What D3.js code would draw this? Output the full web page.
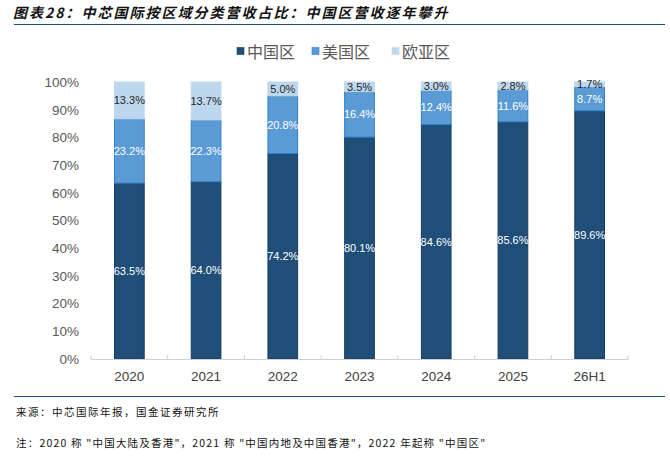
<!DOCTYPE html>
<html>
<head>
<meta charset="utf-8">
<script src="https://cdn.jsdelivr.net/npm/d3@7"></script>
<style>
  body { margin: 0; background: #fff; }
  svg { display: block; }
</style>
</head>
<body>
<div class="chart"></div>
<script>
// data
var categories = ["2020", "2021", "2022", "2023", "2024", "2025", "26H1"];
var chinaShare = [63.5, 64.0, 74.2, 80.1, 84.6, 85.6, 89.6];
var usShare = [23.2, 22.3, 20.8, 16.4, 12.4, 11.6, 8.7];
var euAsiaShare = [13.3, 13.7, 5.0, 3.5, 3.0, 2.8, 1.7];
var seriesNames = ["中国区", "美国区", "欧亚区"];
var yTicks = [0, 10, 20, 30, 40, 50, 60, 70, 80, 90, 100];

var colors = ["#1f4e79", "#5b9bd5", "#bdd7ee"];
var strokes = ["#163d63", "#2f7fc8", "#bdd7ee"];
var labelColors = ["#ffffff", "#ffffff", "#262626"];

var width = 670, height = 456;
var plotLeft = 91, plotRight = 628, plotTop = 82, plotBottom = 359;
var cjk = "'Noto Sans CJK SC', sans-serif";
var latin = "'Liberation Sans', Arial, sans-serif";

var svg = d3.select(".chart")
  .append("svg")
  .attr("width", width)
  .attr("height", height);

// title + rules
svg.append("text")
  .attr("x", 13)
  .attr("y", 18)
  .attr("font-family", cjk)
  .attr("font-size", 14)
  .attr("font-weight", "bold")
  .attr("font-style", "italic")
  .attr("letter-spacing", 2)
  .attr("fill", "#111")
  .text("图表28：中芯国际按区域分类营收占比：中国区营收逐年攀升");

svg.append("line")
  .attr("x1", 14).attr("x2", 665)
  .attr("y1", 24.5).attr("y2", 24.5)
  .attr("stroke", "#1f4e79")
  .attr("stroke-width", 1.2);

svg.append("line")
  .attr("x1", 14).attr("x2", 665)
  .attr("y1", 396.5).attr("y2", 396.5)
  .attr("stroke", "#1f4e79")
  .attr("stroke-width", 1.2);

svg.append("text")
  .attr("x", 16).attr("y", 416)
  .attr("font-family", cjk)
  .attr("font-size", 10.5)
  .attr("letter-spacing", 1.5)
  .attr("fill", "#111")
  .text("来源：中芯国际年报，国金证券研究所");

svg.append("text")
  .attr("x", 16).attr("y", 447)
  .attr("font-family", cjk)
  .attr("font-size", 10.5)
  .attr("letter-spacing", 1.2)
  .attr("fill", "#111")
  .text("注：2020 称 \"中国大陆及香港\"，2021 称 \"中国内地及中国香港\"，2022 年起称 \"中国区\"");

// legend
var legendX = [237, 312, 392];
var legend = svg.append("g").attr("class", "legend");
seriesNames.forEach(function (name, i) {
  legend.append("rect")
    .attr("x", legendX[i]).attr("y", 47.5)
    .attr("width", 7).attr("height", 7)
    .attr("fill", colors[i])
    .attr("stroke", strokes[i])
    .attr("stroke-width", 0.6);
  legend.append("text")
    .attr("x", legendX[i] + 10).attr("y", 57.5)
    .attr("font-family", cjk)
    .attr("font-size", 16)
    .attr("fill", "#595959")
    .text(name);
});

// scales
var x = d3.scaleBand()
  .domain(categories)
  .range([plotLeft, plotRight])
  .paddingInner(0.6)
  .paddingOuter(0.3);

var y = d3.scaleLinear()
  .domain([0, 100])
  .range([plotBottom, plotTop]);

var table = categories.map(function (c, i) {
  return { cat: c, china: chinaShare[i], us: usShare[i], eu: euAsiaShare[i] };
});

var stack = d3.stack().keys(["china", "us", "eu"]);
var layers = stack(table);

// bars
layers.forEach(function (layer, li) {
  svg.append("g")
    .attr("class", "layer")
    .selectAll("rect")
    .data(layer)
    .enter()
    .append("rect")
    .attr("x", function (d) { return x(d.data.cat) + 0.5; })
    .attr("width", x.bandwidth() - 1)
    .attr("y", function (d) { return y(d[1]); })
    .attr("height", function (d) { return y(d[0]) - y(d[1]); })
    .attr("fill", colors[li])
    .attr("stroke", strokes[li])
    .attr("stroke-width", 1);
});

// value labels
layers.forEach(function (layer, li) {
  svg.append("g").selectAll("text")
    .data(layer)
    .enter()
    .append("text")
    .attr("x", function (d) { return x(d.data.cat) + x.bandwidth() / 2; })
    .attr("y", function (d) { return (y(d[0]) + y(d[1])) / 2 + 4; })
    .attr("text-anchor", "middle")
    .attr("font-family", latin)
    .attr("font-size", 11)
    .attr("fill", labelColors[li])
    .text(function (d) { return (d[1] - d[0]).toFixed(1) + "%"; });
});

// y axis (labels only)
var yAxis = svg.append("g")
  .attr("transform", "translate(" + (plotLeft - 12) + ",0)")
  .call(d3.axisLeft(y).tickValues(yTicks).tickSize(0).tickPadding(0)
    .tickFormat(function (d) { return d + "%"; }));
yAxis.select(".domain").remove();
yAxis.selectAll("text")
  .attr("font-family", latin)
  .attr("font-size", 13.5)
  .attr("fill", "#595959");

// x axis
var xAxis = svg.append("g")
  .attr("transform", "translate(0," + plotBottom + ")")
  .call(d3.axisBottom(x).tickSize(0).tickPadding(12));
xAxis.select(".domain")
  .attr("stroke", "#d0d0d0")
  .attr("d", "M" + plotLeft + ",0.5H" + plotRight);
xAxis.selectAll("text")
  .attr("font-family", latin)
  .attr("font-size", 13.5)
  .attr("fill", "#404040");

// boundary ticks between categories
var bounds = d3.range(categories.length + 1).map(function (i) {
  return plotLeft + i * (plotRight - plotLeft) / categories.length;
});
xAxis.selectAll(".bound")
  .data(bounds)
  .enter()
  .append("line")
  .attr("class", "bound")
  .attr("x1", function (d) { return d; })
  .attr("x2", function (d) { return d; })
  .attr("y1", 0.5)
  .attr("y2", -4)
  .attr("stroke", "#d0d0d0");
</script>
</body>
</html>
